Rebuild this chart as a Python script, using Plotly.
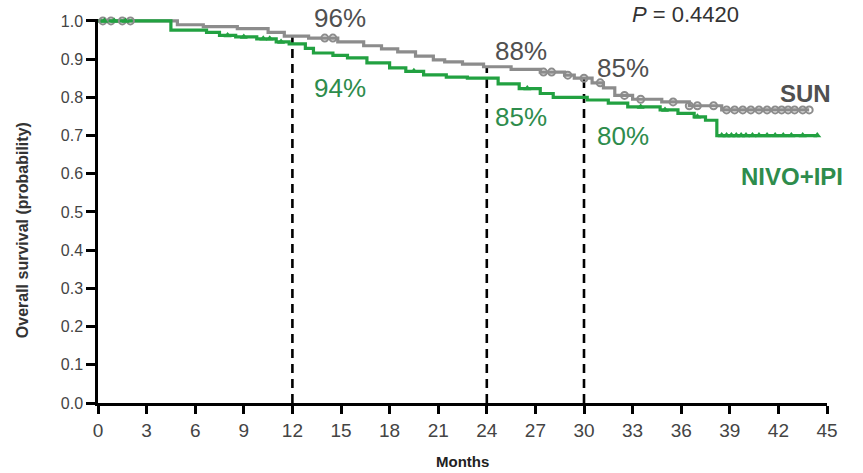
import numpy as np
import plotly.graph_objects as go

# Kaplan-Meier step estimates (months, survival probability)
sun_months = [0, 4.9, 6.5, 8.6, 10.5, 11.5, 13.0, 14.8, 16.4, 17.5, 18.5, 19.6, 20.7,
              21.4, 22.5, 23.8, 25.5, 27.3, 28.8, 29.4, 30.5, 31.2, 31.9, 33.0, 34.8,
              36.5, 38.5, 43.9]
sun_surv = [1.0, 0.99, 0.985, 0.98, 0.97, 0.96, 0.955, 0.945, 0.935, 0.927, 0.919, 0.908,
            0.898, 0.893, 0.887, 0.88, 0.873, 0.866, 0.858, 0.85, 0.838, 0.825, 0.805,
            0.795, 0.788, 0.778, 0.767, 0.767]

nivo_months = [0, 4.5, 6.7, 7.5, 8.5, 9.8, 11.0, 11.8, 12.8, 13.3, 14.5, 15.4, 16.6, 18.0,
               19.0, 20.1, 21.5, 22.8, 24.7, 26.0, 27.3, 28.1, 30.2, 31.5, 32.7, 34.7,
               35.8, 36.8, 37.5, 38.2, 44.4]
nivo_surv = [1.0, 0.976, 0.97, 0.962, 0.958, 0.953, 0.945, 0.94, 0.928, 0.916, 0.91, 0.903,
             0.89, 0.877, 0.868, 0.859, 0.853, 0.85, 0.835, 0.823, 0.81, 0.80, 0.793,
             0.785, 0.775, 0.767, 0.758, 0.749, 0.74, 0.70, 0.70]

# Censoring times
sun_censor = [0.3, 0.8, 1.5, 2.0, 14.0, 14.5, 27.5, 28.0, 29.0, 30.0, 31.0, 32.5, 33.5,
              35.5, 36.5, 37.0, 38.0, 38.8, 39.3, 39.8, 40.3, 40.8, 41.3, 41.8, 42.2,
              42.6, 43.0, 43.5, 43.9]
nivo_censor = [0.4, 1.0, 1.7, 8.0, 9.0, 10.2, 10.6, 11.3, 19.5, 26.5, 33.5, 35.0, 37.0,
               38.5, 38.8, 39.1, 39.4, 39.7, 40.0, 40.4, 40.8, 41.3, 41.8, 42.3, 42.8,
               43.5, 44.4]

# Landmark survival rates
landmark_months = [12, 24, 30]
sun_landmark = [0.96, 0.88, 0.85]
nivo_landmark = [0.94, 0.85, 0.80]

x_ticks = list(range(0, 46, 3))
y_ticks = [round(v * 0.1, 1) for v in range(11)]
p_value = "0.4420"

GRAY = "#8c8c8c"
GRAY_TXT = "#505050"
GREEN = "#22a141"
GREEN_TXT = "#2e8c4c"
FONT = "Liberation Sans, Arial"


def step_value(times, surv, t):
    idx = np.searchsorted(np.asarray(times), t, side="right") - 1
    return float(np.asarray(surv)[max(idx, 0)])


fig = go.Figure()

# Dashed landmark guides, drawn up to the SUN curve
for m in landmark_months:
    fig.add_trace(go.Scatter(x=[m, m], y=[0, step_value(sun_months, sun_surv, m)],
                             mode="lines", line=dict(color="black", width=2.6, dash="9px,6px"),
                             showlegend=False, hoverinfo="skip"))

for times, surv, color in [(sun_months, sun_surv, GRAY), (nivo_months, nivo_surv, GREEN)]:
    fig.add_trace(go.Scatter(x=times, y=surv, mode="lines",
                             line=dict(color=color, width=3.2, shape="hv"),
                             showlegend=False, hoverinfo="skip"))

fig.add_trace(go.Scatter(
    x=sun_censor, y=[step_value(sun_months, sun_surv, t) for t in sun_censor],
    mode="markers", marker=dict(symbol="circle-open", size=7, color=GRAY, line=dict(width=2)),
    showlegend=False, hoverinfo="skip", cliponaxis=False))
fig.add_trace(go.Scatter(
    x=nivo_censor, y=[step_value(nivo_months, nivo_surv, t) for t in nivo_censor],
    mode="markers", marker=dict(symbol="triangle-up", size=7, color=GREEN),
    showlegend=False, hoverinfo="skip", cliponaxis=False))

annotations = []
sun_shift = [(20, 18), (6, 16), (11, 10)]
nivo_shift = [(20, -44), (6, -39), (11, -39)]
for m, s, (dx, dy) in zip(landmark_months, sun_landmark, sun_shift):
    annotations.append(dict(x=m, y=step_value(sun_months, sun_surv, m), text=f"{round(s*100)}%",
                            xanchor="left", yanchor="middle", xshift=dx, yshift=dy, showarrow=False,
                            font=dict(size=26, color=GRAY_TXT, family=FONT)))
for m, s, (dx, dy) in zip(landmark_months, nivo_landmark, nivo_shift):
    annotations.append(dict(x=m, y=s, text=f"{round(s*100)}%",
                            xanchor="left", yanchor="middle", xshift=dx, yshift=dy, showarrow=False,
                            font=dict(size=26, color=GREEN_TXT, family=FONT)))

annotations += [
    dict(x=43.66, y=0.81, text="<b>SUN</b>", showarrow=False, xanchor="center", yanchor="middle",
         font=dict(size=24, color=GRAY_TXT, family=FONT)),
    dict(x=42.83, y=0.593, text="<b>NIVO+IPI</b>", showarrow=False, xanchor="center", yanchor="middle",
         font=dict(size=24, color=GREEN_TXT, family=FONT)),
    dict(x=36.25, y=1, yref="paper", yshift=19, text=f"<i>P</i> = {p_value}", showarrow=False,
         xanchor="center", yanchor="top", font=dict(size=22, color="#333333", family=FONT)),
    dict(x=0, xref="paper", xshift=-76, y=0.45, yref="paper", text="<b>Overall survival (probability)</b>",
         textangle=-90, showarrow=False, xanchor="center", yanchor="middle",
         font=dict(size=16, color="#333333", family=FONT)),
    dict(x=22.5, y=0, yref="paper", yshift=-48, text="<b>Months</b>", showarrow=False,
         xanchor="center", yanchor="top", font=dict(size=15, color="#222222", family=FONT)),
]

fig.update_layout(
    width=863, height=473,
    margin=dict(l=98, r=36, t=19, b=70),
    paper_bgcolor="white", plot_bgcolor="white",
    annotations=annotations,
    xaxis=dict(range=[0, 45], tickvals=x_ticks, ticktext=[str(v) for v in x_ticks],
               showgrid=False, zeroline=False, showline=True, linecolor="black", linewidth=2.5,
               ticks="outside", ticklen=8, tickwidth=2.5, tickcolor="black",
               tickfont=dict(size=19, color="#444444", family=FONT)),
    yaxis=dict(range=[0, 1.005], tickvals=y_ticks, ticktext=[f"{v:.1f}" for v in y_ticks],
               showgrid=False, zeroline=False, showline=True, linecolor="black", linewidth=2.5,
               ticks="outside", ticklen=9, tickwidth=2.5, tickcolor="black",
               tickfont=dict(size=16, color="#444444", family=FONT)),
)

fig.write_html("out.html")
